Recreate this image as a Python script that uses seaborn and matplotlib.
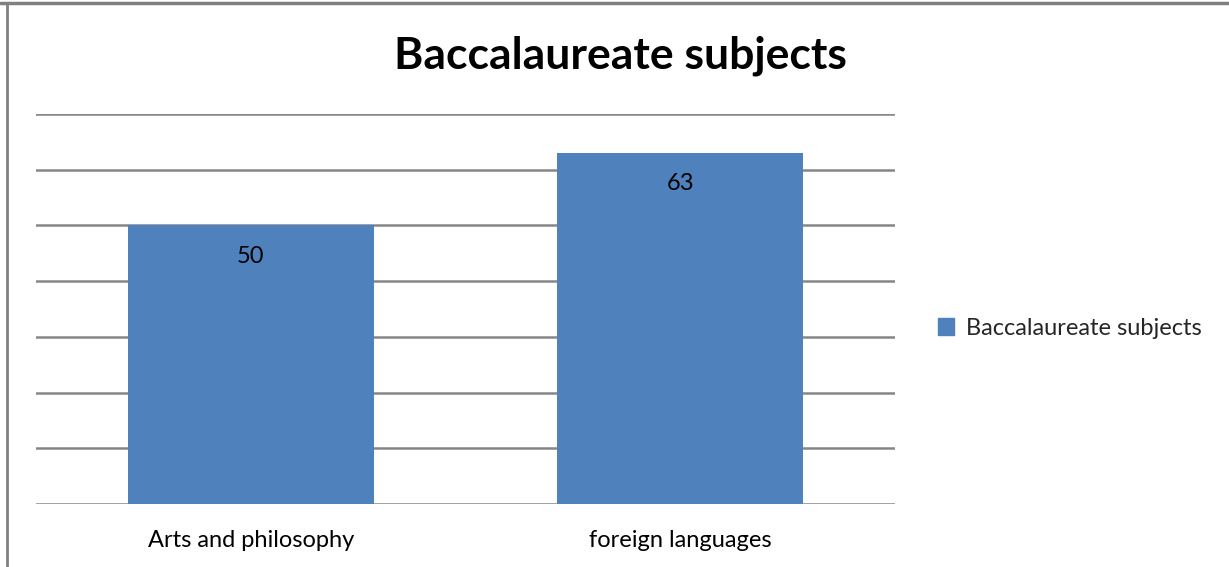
import pandas as pd
import seaborn as sns
import matplotlib.pyplot as plt
from matplotlib.lines import Line2D
from matplotlib.patches import Patch

# data
subjects = ["Arts and philosophy", "foreign languages"]
counts = [50, 63]
series_name = "Baccalaureate subjects"

df = pd.DataFrame({"subject": subjects, "count": counts, "series": series_name})

sns.set_theme(style="white")
plt.rcParams['font.family'] = ['Lato', 'DejaVu Sans']

fig = plt.figure(figsize=(12.29, 5.67), dpi=100)
ax = fig.add_axes([0.0293, 0.1111, 0.6989, 0.6878])

sns.barplot(data=df, x="subject", y="count", hue="series", palette=["#4F81BD"],
            width=0.573, saturation=1, linewidth=0, ax=ax, legend=False)

ax.set_ylim(0, 70)
ax.set_yticks(range(0, 71, 10))
ax.yaxis.grid(True, color="#868686", linewidth=1.8)
ax.set_axisbelow(True)
ax.set_yticklabels([])
ax.tick_params(axis="y", length=0)
ax.tick_params(axis="x", length=0, pad=19, labelsize=17, labelcolor="black")
ax.set_xlabel("")
ax.set_ylabel("")
for s in ax.spines.values():
    s.set_visible(False)

# value labels inside bar tops
for bar, v in zip(ax.patches, counts):
    ax.annotate(str(v), (bar.get_x() + bar.get_width() / 2, bar.get_height()),
                xytext=(0, -22), textcoords="offset points",
                ha="center", va="center", fontsize=17, color="black")

fig.text(0.505, 0.902, "Baccalaureate subjects", ha="center", va="center",
         fontsize=32, fontweight="bold", color="black")

ax.legend(handles=[Patch(color="#4F81BD", label=series_name)],
          loc="center left", bbox_to_anchor=(1.025, 0.45), frameon=False,
          fontsize=17, handlelength=0.7, handleheight=0.7, handletextpad=0.5)

# outer frame lines
fig.add_artist(Line2D([0, 1], [0.9947, 0.9947], color="#808080", lw=2.5,
                      transform=fig.transFigure))
fig.add_artist(Line2D([0.0057, 0.0057], [0, 0.9947], color="#808080", lw=2,
                      transform=fig.transFigure))

plt.savefig("out.png", dpi=100)
